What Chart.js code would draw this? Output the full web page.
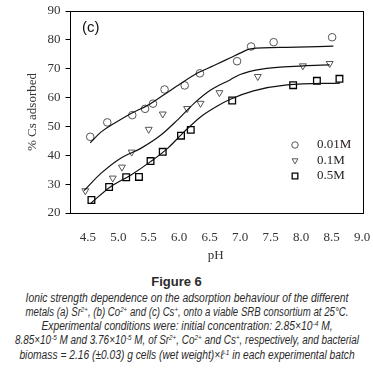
<!DOCTYPE html>
<html>
<head>
<meta charset="utf-8">
<script src="https://cdn.jsdelivr.net/npm/chart.js@4.4.1/dist/chart.umd.min.js"></script>
<style>
  body { margin: 0; background: #fff; }
  #wrap { position: relative; width: 373px; height: 374px; overflow: hidden; }
  #chart { position: absolute; left: 0; top: 0; }
  .cap { position: absolute; white-space: nowrap; line-height: 14px;
         font-family: "Liberation Sans", Arial, sans-serif; color: #2b2b2b; }
  .fig { left: 0; width: 353px; text-align: center; font-weight: bold; font-size: 13px; }
  .ln { left: 50%; font-style: italic; font-size: 12.5px; transform-origin: 50% 50%; }
  .ln sup { font-size: 8px; vertical-align: 4px; line-height: 0; }
</style>
</head>
<body>
<div id="wrap">
  <canvas id="chart" width="373" height="267"></canvas>
  <div class="cap fig" style="top:275px">Figure 6</div>
  <div class="cap ln" style="top:291px">Ionic strength dependence on the adsorption behaviour of the different</div>
  <div class="cap ln" style="top:305px">metals (a) Sr<sup>2+</sup>, (b) Co<sup>2+</sup> and (c) Cs<sup>+</sup>, onto a viable SRB consortium at 25°C.</div>
  <div class="cap ln" style="top:319px">Experimental conditions were: initial concentration: 2.85×10<sup>-4</sup> M,</div>
  <div class="cap ln" style="top:333px">8.85×10<sup>-5</sup> M and 3.76×10<sup>-5</sup> M, of Sr<sup>2+</sup>, Co<sup>2+</sup> and Cs<sup>+</sup>, respectively, and bacterial</div>
  <div class="cap ln" style="top:348px">biomass = 2.16 (±0.03) g cells (wet weight)×ℓ<sup>-1</sup> in each experimental batch</div>
</div>
<script>
// series labels (ionic strength)
const seriesLabels = ['0.01M', '0.1M', '0.5M'];

// measured points
const ph001 = [4.54, 4.82, 5.23, 5.44, 5.57, 5.76, 6.09, 6.34, 6.95, 7.18, 7.55, 8.51];
const cs001 = [46.4, 51.4, 53.9, 56.1, 57.9, 62.8, 64.2, 68.4, 72.6, 77.7, 79.2, 80.9];

const ph01 = [4.46, 4.91, 5.06, 5.22, 5.50, 5.73, 6.13, 6.35, 6.66, 7.29, 8.03, 8.47];
const cs01 = [27.7, 32.1, 35.9, 41.1, 49.0, 54.3, 56.2, 58.0, 61.7, 67.3, 71.0, 71.8];

const ph05 = [4.56, 4.85, 5.13, 5.34, 5.53, 5.73, 6.03, 6.19, 6.87, 7.87, 8.26, 8.63];
const cs05 = [24.5, 29.0, 32.4, 32.5, 38.0, 41.2, 46.8, 48.8, 59.0, 64.3, 65.8, 66.5];

// fitted curves
const fitPh001 = [4.54, 4.72, 4.93, 5.21, 5.48, 5.75, 6.02, 6.30, 6.57, 6.84, 7.0, 7.17, 7.77, 8.53];
const fitCs001 = [44.3, 48.1, 51.0, 54.5, 57.3, 61.0, 64.8, 68.5, 71.1, 73.8, 75.4, 76.9, 77.4, 77.8];

const fitPh01 = [4.44, 4.72, 5.04, 5.37, 5.70, 5.97, 6.24, 6.51, 6.84, 7.0, 7.33, 8.04, 8.47];
const fitCs01 = [27.8, 33.8, 39.0, 42.4, 47.0, 52.2, 57.9, 62.5, 66.2, 68.0, 69.8, 71.0, 71.3];

const fitPh05 = [4.55, 4.88, 5.21, 5.53, 5.81, 6.08, 6.35, 6.62, 6.84, 7.22, 7.77, 8.64];
const fitCs05 = [23.4, 29.2, 33.2, 37.8, 42.4, 48.1, 53.3, 57.0, 59.4, 62.3, 64.4, 65.0];

// tick labels
const xTicks = [4.5, 5.0, 5.5, 6.0, 6.5, 7.0, 7.5, 8.0, 8.5, 9.0];
const yTicks = [20, 30, 40, 50, 60, 70, 80, 90];

// caption line widths in the figure
const capWidths = [323, 323, 291, 344, 335];

const toXY = (xs, ys) => xs.map((x, i) => ({ x: x, y: ys[i] }));

const serif = '"Liberation Serif", "Times New Roman", serif';

function fitLine(xs, ys) {
    return {
        data: toXY(xs, ys),
        showLine: true,
        borderColor: '#111',
        borderWidth: 1.2,
        pointRadius: 0,
        cubicInterpolationMode: 'monotone',
        fill: false
    };
}

// frame, panel letter and legend inside the plot
const framePlugin = {
    id: 'frame',
    afterDraw(chart) {
        const { ctx, chartArea: a } = chart;
        ctx.save();
        ctx.strokeStyle = '#000';
        ctx.lineWidth = 1;
        ctx.strokeRect(Math.round(a.left) + 0.5, Math.round(a.top) + 0.5,
            Math.round(a.right - a.left), Math.round(a.bottom - a.top));

        ctx.fillStyle = '#111';
        ctx.font = '15px "Liberation Sans", Arial, sans-serif';
        ctx.textBaseline = 'middle';
        ctx.fillText('(c)', 82, 28);

        // legend
        const rows = [145, 160.5, 176];
        chart.data.datasets.filter(d => d.legendLabel).forEach((d, i) => {
            ctx.strokeStyle = d.borderColor;
            ctx.fillStyle = 'rgba(0,0,0,0)';
            ctx.lineWidth = d.borderWidth;
            Chart.helpers.drawPoint(ctx, {
                pointStyle: d.pointStyle,
                radius: d.pointRadius * 0.85,
                rotation: d.rotation || 0,
                borderWidth: d.borderWidth
            }, 295, rows[i]);
            ctx.fillStyle = '#2a2020';
            ctx.font = '13px ' + serif;
            ctx.textAlign = 'left';
            ctx.fillText(d.legendLabel, 317, rows[i]);
        });
        ctx.restore();
    }
};

const ctx = document.getElementById('chart').getContext('2d');

const chart = new Chart(ctx, {
    type: 'scatter',
    data: {
        datasets: [
            fitLine(fitPh001, fitCs001),
            fitLine(fitPh01, fitCs01),
            fitLine(fitPh05, fitCs05),
            {
                legendLabel: seriesLabels[0],
                data: toXY(ph001, cs001),
                pointStyle: 'circle',
                pointRadius: 3.8,
                borderWidth: 1,
                borderColor: '#555',
                backgroundColor: 'rgba(0,0,0,0)'
            },
            {
                legendLabel: seriesLabels[1],
                data: toXY(ph01, cs01),
                pointStyle: 'triangle',
                rotation: 180,
                pointRadius: 4,
                borderWidth: 1,
                borderColor: '#555',
                backgroundColor: 'rgba(0,0,0,0)'
            },
            {
                legendLabel: seriesLabels[2],
                data: toXY(ph05, cs05),
                pointStyle: 'rect',
                pointRadius: 4.7,
                borderWidth: 1.3,
                borderColor: '#000',
                backgroundColor: 'rgba(0,0,0,0)'
            }
        ]
    },
    options: {
        responsive: false,
        animation: false,
        devicePixelRatio: 1,
        layout: { padding: { left: 21, top: 11, right: 11, bottom: 0 } },
        plugins: {
            legend: { display: false },
            tooltip: { enabled: false }
        },
        scales: {
            x: {
                type: 'linear',
                min: 4.2,
                max: 9.0,
                afterBuildTicks: (scale) => { scale.ticks = xTicks.map(v => ({ value: v })); },
                afterFit: (scale) => { scale.height = 54; scale.paddingLeft = 0; scale.paddingRight = 0; },
                grid: { display: false },
                border: { display: false },
                ticks: {
                    autoSkip: false,
                    maxRotation: 0,
                    padding: 9,
                    color: '#333',
                    font: { family: serif, size: 13 },
                    callback: (v) => Number(v).toFixed(1)
                },
                title: {
                    display: true,
                    text: 'pH',
                    color: '#333',
                    font: { family: serif, size: 13 },
                    padding: { top: 4, bottom: 4 }
                }
            },
            y: {
                type: 'linear',
                min: 20,
                max: 90,
                afterBuildTicks: (scale) => { scale.ticks = yTicks.map(v => ({ value: v })); },
                afterFit: (scale) => { scale.width = 48.5; scale.paddingTop = 0; scale.paddingBottom = 0; },
                grid: { display: true, drawOnChartArea: false, drawTicks: true, tickLength: 4, color: '#000' },
                border: { display: false },
                ticks: {
                    autoSkip: false,
                    padding: 5,
                    color: '#333',
                    font: { family: serif, size: 13 }
                },
                title: {
                    display: true,
                    text: '% Cs adsorbed',
                    color: '#333',
                    font: { family: serif, size: 13 },
                    padding: { top: 4, bottom: 4 }
                }
            }
        }
    },
    plugins: [framePlugin]
});

// squeeze each caption line to the width it has in the figure
document.querySelectorAll('.ln').forEach((el, i) => {
    const s = capWidths[i] / el.offsetWidth;
    el.style.transform = 'translateX(-50%) scaleX(' + s.toFixed(3) + ')';
});
</script>
</body>
</html>
